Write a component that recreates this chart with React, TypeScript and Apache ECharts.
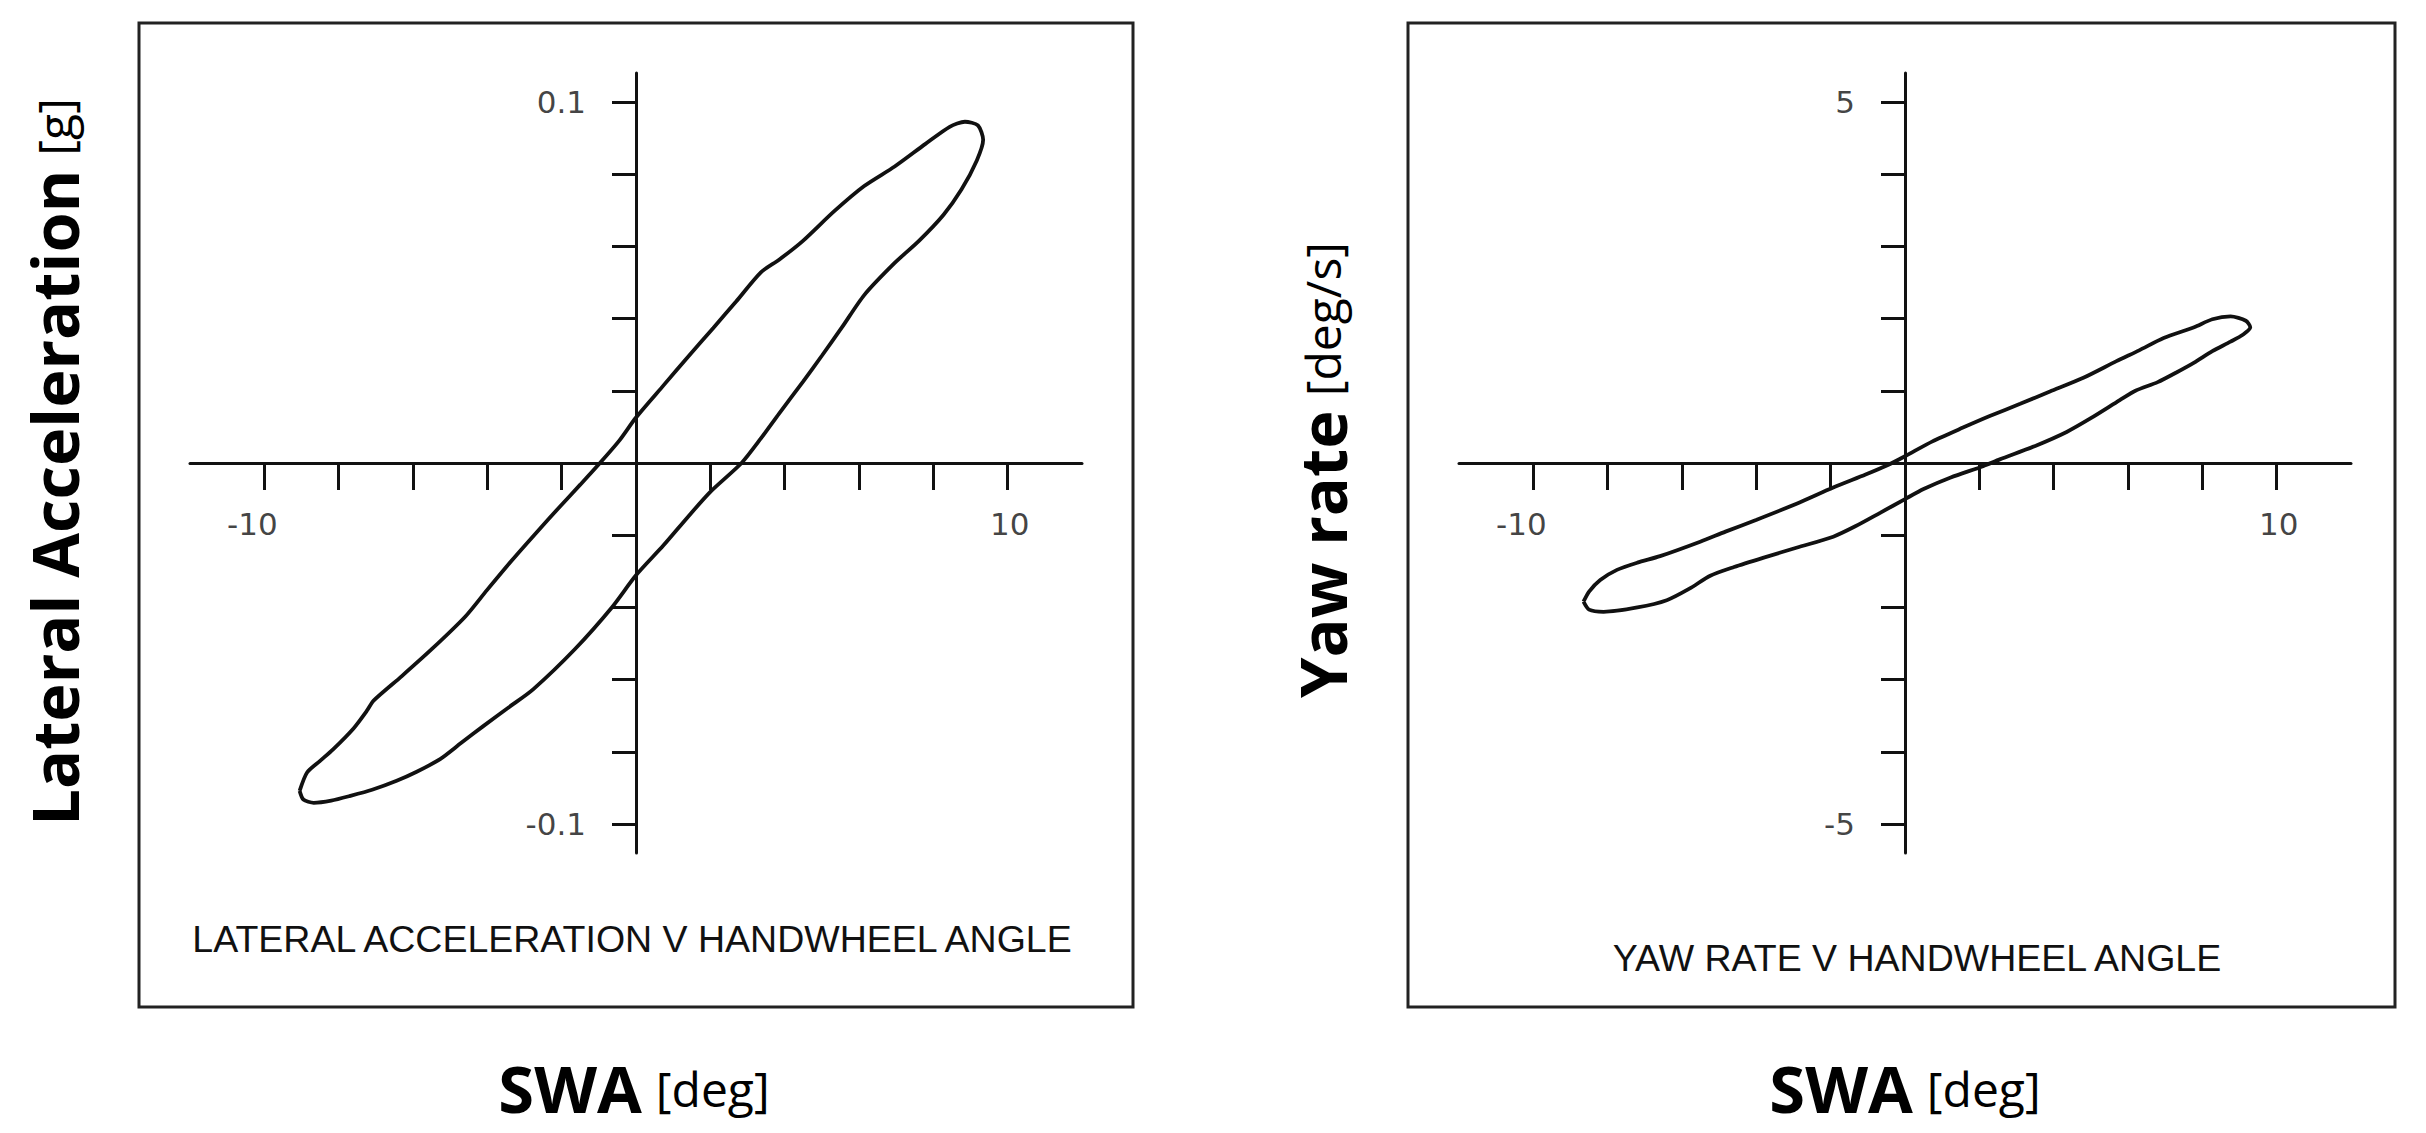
import React, { useEffect, useRef } from "react";
import * as echarts from "echarts";

// Tick positions and labels
const xTicks = [-10, -8, -6, -4, -2, 2, 4, 6, 8, 10];
const xLabels = [-10, 10];
const latTicks = [-0.1, -0.08, -0.06, -0.04, -0.02, 0.02, 0.04, 0.06, 0.08, 0.1];
const latLabels = [-0.1, 0.1];
const yawTicks = [-5, -4, -3, -2, -1, 1, 2, 3, 4, 5];
const yawLabels = [-5, 5];

// Lateral acceleration loop: SWA [deg] vs lateral acceleration [g]
const latSWA = [
  -9.05, -8.85, -8.5, -8.15, -7.6, -7.24, -7.06, -6.3, -5.49, -4.59, -4.01, -3.36, -2.7, -2.05, -1.5, -0.97, -0.45, 0,
  0.74, 1.39, 2.08, 2.7, 3.36, 3.85, 4.5, 5.32, 6.14, 6.96, 7.78, 8.44, 8.85, 9.2, 9.34,
  9.17, 8.76, 8.27, 7.62, 6.96, 6.14, 5.53, 5.0, 4.5, 3.85, 3.36, 2.84, 2.0, 1.39, 0.74, 0, -0.65, -1.64, -2.76, -3.4,
  -4.1, -4.7, -5.27, -5.9, -6.44, -7.1, -7.69, -8.2, -8.67, -8.95, -9.05,
];
const latAcc = [
  -0.0908, -0.0857, -0.0825, -0.0793, -0.0735, -0.0686, -0.0658, -0.059, -0.0515, -0.0425, -0.0352, -0.0272, -0.0195,
  -0.0121, -0.006, 0, 0.0062, 0.0126, 0.0215, 0.0293, 0.0374, 0.0448, 0.0528, 0.0563, 0.0616, 0.0696, 0.0767, 0.0821,
  0.0883, 0.0931, 0.0945, 0.0935, 0.0895,
  0.0838, 0.0758, 0.0687, 0.0616, 0.0554, 0.0465, 0.0374, 0.0297, 0.0226, 0.0137, 0.0068, 0, -0.008, -0.015, -0.0228,
  -0.0311, -0.04, -0.0515, -0.0626, -0.0675, -0.0728, -0.0775, -0.082, -0.0855, -0.088, -0.0905, -0.0922, -0.0935,
  -0.0941, -0.0932, -0.0908,
];

// Yaw rate loop: SWA [deg] vs yaw rate [deg/s]
const yawSWA = [
  -8.65, -8.5, -8.2, -7.75, -7.2, -6.59, -5.51, -4.83, -3.99, -2.9, -1.93, -1.06, -0.49, 0, 0.74, 1.56, 2.28, 3.1, 3.9,
  4.8, 5.69, 6.3, 6.96, 7.78, 8.27, 8.76, 9.17, 9.29,
  9.1, 8.76, 8.27, 7.78, 7.29, 6.8, 6.2, 5.78, 5.0, 4.35, 3.52, 2.55, 2.1, 1.23, 0.5, 0, -0.67, -1.35, -1.93, -2.9,
  -3.8, -4.6, -5.24, -5.8, -6.41, -7.2, -8.11, -8.5, -8.65,
];
const yawRate = [
  -1.92, -1.78, -1.62, -1.48, -1.38, -1.29, -1.09, -0.95, -0.785, -0.56, -0.34, -0.16, -0.035, 0.094, 0.3, 0.49, 0.65,
  0.82, 0.99, 1.18, 1.41, 1.56, 1.73, 1.88, 1.99, 2.03, 1.97, 1.88,
  1.78, 1.68, 1.55, 1.39, 1.25, 1.12, 1.0, 0.87, 0.62, 0.43, 0.24, 0.05, -0.044, -0.2, -0.36, -0.5, -0.69, -0.88, -1.02,
  -1.17, -1.31, -1.44, -1.56, -1.74, -1.9, -2.0, -2.06, -2.03, -1.92,
];

const INK = "#111";
const TICK_FONT = "DejaVu Sans";

function pairs(xs: number[], ys: number[]) {
  return xs.map((x, i) => [x, ys[i]]);
}

function makeX(gridIndex: number) {
  return {
    type: "value",
    gridIndex,
    min: -12,
    max: 12,
    axisLine: { onZero: true, lineStyle: { color: INK, width: 3 } },
    axisTick: { show: true, customValues: xTicks, length: 27, lineStyle: { color: INK, width: 3 } },
    axisLabel: { show: false },
    splitLine: { show: false },
  };
}

function makeY(gridIndex: number, lim: number, ticks: number[]) {
  return {
    type: "value",
    gridIndex,
    min: -lim,
    max: lim,
    axisLine: { onZero: true, lineStyle: { color: INK, width: 3 } },
    axisTick: { show: true, customValues: ticks, length: 24, lineStyle: { color: INK, width: 3 } },
    axisLabel: { show: false },
    splitLine: { show: false },
  };
}

// tick labels drawn at their data positions through the axes' scales
function xLabelSeries(idx: number) {
  return {
    type: "scatter",
    xAxisIndex: idx,
    yAxisIndex: idx,
    symbolSize: 0,
    silent: true,
    data: xLabels.map((v) => ({
      value: [v, 0],
      label: { offset: [v < 0 ? -12 : 2, 0] },
    })),
    label: {
      show: true,
      position: "bottom",
      distance: 45,
      color: INK,
      fontSize: 31,
      fontFamily: TICK_FONT,
      formatter: (p: any) => String(p.value[0]),
    },
  };
}

function yLabelSeries(idx: number, labels: number[]) {
  return {
    type: "scatter",
    xAxisIndex: idx,
    yAxisIndex: idx,
    symbolSize: 0,
    silent: true,
    data: labels.map((v) => [0, v]),
    label: {
      show: true,
      position: "left",
      distance: 50,
      color: INK,
      fontSize: 31,
      fontFamily: TICK_FONT,
      formatter: (p: any) => String(p.value[1]),
    },
  };
}

export default function App() {
  const ref = useRef<HTMLDivElement>(null);
  useEffect(() => {
    if (!ref.current) return;
    const chart = echarts.init(ref.current, null, { renderer: "svg" });
    const richName = {
      b: { fontSize: 65, fontWeight: "bold", fontFamily: "Open Sans", fill: "#000" },
      r: { fontSize: 48, fontFamily: "Open Sans", fill: "#000", padding: [0, 0, 0, 14] },
    };
    const captionStyle = {
      fontSize: 37.5,
      fontFamily: "Liberation Sans",
      fill: INK,
      align: "center",
      verticalAlign: "middle",
    };
    chart.setOption({
      animation: false,
      backgroundColor: "#fff",
      grid: [
        { left: 190, top: 73, width: 892, height: 780 },
        { left: 1459, top: 73, width: 892, height: 780 },
      ],
      xAxis: [makeX(0), makeX(1)],
      yAxis: [makeY(0, 0.108, latTicks), makeY(1, 5.4, yawTicks)],
      series: [
        {
          type: "line",
          xAxisIndex: 0,
          yAxisIndex: 0,
          data: pairs(latSWA, latAcc),
          smooth: 0.25,
          showSymbol: false,
          lineStyle: { color: INK, width: 3.8 },
        },
        {
          type: "line",
          xAxisIndex: 1,
          yAxisIndex: 1,
          data: pairs(yawSWA, yawRate),
          smooth: 0.25,
          showSymbol: false,
          lineStyle: { color: INK, width: 3.8 },
        },
        xLabelSeries(0),
        xLabelSeries(1),
        yLabelSeries(0, latLabels),
        yLabelSeries(1, yawLabels),
      ],
      graphic: [
        {
          type: "rect",
          shape: { x: 139, y: 23, width: 994, height: 984 },
          style: { fill: "none", stroke: "#222", lineWidth: 3 },
        },
        {
          type: "rect",
          shape: { x: 1408, y: 23, width: 987, height: 984 },
          style: { fill: "none", stroke: "#222", lineWidth: 3 },
        },
        {
          type: "text",
          x: 632,
          y: 939,
          style: { ...captionStyle, text: "LATERAL ACCELERATION V HANDWHEEL ANGLE" },
        },
        {
          type: "text",
          x: 1917,
          y: 958,
          style: { ...captionStyle, text: "YAW RATE V HANDWHEEL ANGLE" },
        },
        {
          type: "text",
          x: 634,
          y: 1088,
          style: { text: "{b|SWA}{r|[deg]}", rich: richName, align: "center", verticalAlign: "middle" },
        },
        {
          type: "text",
          x: 1905,
          y: 1088,
          style: { text: "{b|SWA}{r|[deg]}", rich: richName, align: "center", verticalAlign: "middle" },
        },
        {
          type: "text",
          x: 54,
          y: 462,
          rotation: Math.PI / 2,
          style: {
            text: "{b|Lateral Acceleration}{r|[g]}",
            rich: richName,
            align: "center",
            verticalAlign: "middle",
          },
        },
        {
          type: "text",
          x: 1322,
          y: 470,
          rotation: Math.PI / 2,
          style: {
            text: "{b|Yaw rate}{r|[deg/s]}",
            rich: richName,
            align: "center",
            verticalAlign: "middle",
          },
        },
      ],
    });
    return () => chart.dispose();
  }, []);
  return (
    <div
      ref={ref}
      style={{ position: "fixed", left: 0, top: 0, width: "2426px", height: "1133px", background: "#fff" }}
    />
  );
}
